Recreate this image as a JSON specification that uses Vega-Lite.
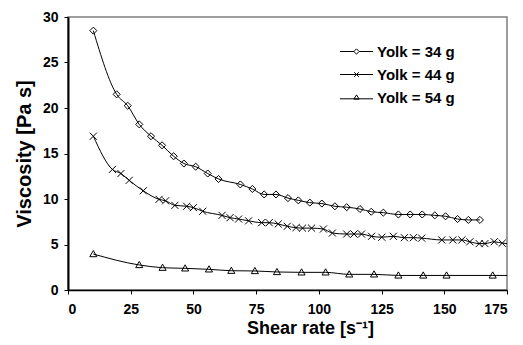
{
  "$schema": "https://vega.github.io/schema/vega-lite/v6.json",
  "autosize": "none",
  "width": 439,
  "height": 273,
  "padding": {"left": 68, "top": 17, "right": 16, "bottom": 55},
  "config": {
    "font": "Liberation Sans",
    "view": {"stroke": "#7f7f7f", "strokeWidth": 1.5},
    "axis": {
      "labelFont": "Liberation Sans", "labelFontWeight": "bold", "labelFontSize": 14, "labelColor": "black",
      "titleFont": "Liberation Sans", "titleFontWeight": "bold", "titleFontSize": 19, "titleColor": "black",
      "domainColor": "black", "domainWidth": 1.5, "tickColor": "black", "tickWidth": 1, "tickSize": 4,
      "grid": false
    }
  },
  "data": {"values": [
    {"series": "Yolk = 34 g", "shear": 10.1, "visc": 28.5},
    {"series": "Yolk = 34 g", "shear": 19.4, "visc": 21.5},
    {"series": "Yolk = 34 g", "shear": 23.8, "visc": 20.25},
    {"series": "Yolk = 34 g", "shear": 28.4, "visc": 18.2},
    {"series": "Yolk = 34 g", "shear": 33.1, "visc": 16.9},
    {"series": "Yolk = 34 g", "shear": 37.5, "visc": 15.9},
    {"series": "Yolk = 34 g", "shear": 42.1, "visc": 14.7},
    {"series": "Yolk = 34 g", "shear": 46.2, "visc": 13.9},
    {"series": "Yolk = 34 g", "shear": 50.9, "visc": 13.55},
    {"series": "Yolk = 34 g", "shear": 55.7, "visc": 12.8},
    {"series": "Yolk = 34 g", "shear": 60.0, "visc": 12.2},
    {"series": "Yolk = 34 g", "shear": 68.7, "visc": 11.6},
    {"series": "Yolk = 34 g", "shear": 73.5, "visc": 11.1},
    {"series": "Yolk = 34 g", "shear": 78.2, "visc": 10.5},
    {"series": "Yolk = 34 g", "shear": 82.9, "visc": 10.5},
    {"series": "Yolk = 34 g", "shear": 87.7, "visc": 10.1},
    {"series": "Yolk = 34 g", "shear": 91.8, "visc": 9.85},
    {"series": "Yolk = 34 g", "shear": 96.4, "visc": 9.6},
    {"series": "Yolk = 34 g", "shear": 101.2, "visc": 9.5},
    {"series": "Yolk = 34 g", "shear": 106.4, "visc": 9.2},
    {"series": "Yolk = 34 g", "shear": 111.1, "visc": 9.1},
    {"series": "Yolk = 34 g", "shear": 116.4, "visc": 8.9},
    {"series": "Yolk = 34 g", "shear": 120.9, "visc": 8.6},
    {"series": "Yolk = 34 g", "shear": 125.7, "visc": 8.5},
    {"series": "Yolk = 34 g", "shear": 131.7, "visc": 8.3},
    {"series": "Yolk = 34 g", "shear": 136.4, "visc": 8.3},
    {"series": "Yolk = 34 g", "shear": 141.2, "visc": 8.3},
    {"series": "Yolk = 34 g", "shear": 146.2, "visc": 8.2},
    {"series": "Yolk = 34 g", "shear": 150.5, "visc": 8.1},
    {"series": "Yolk = 34 g", "shear": 155.3, "visc": 7.8},
    {"series": "Yolk = 34 g", "shear": 159.6, "visc": 7.7},
    {"series": "Yolk = 34 g", "shear": 164.2, "visc": 7.7},
    {"series": "Yolk = 44 g", "shear": 10.1, "visc": 16.9},
    {"series": "Yolk = 44 g", "shear": 17.7, "visc": 13.25},
    {"series": "Yolk = 44 g", "shear": 21.1, "visc": 12.8},
    {"series": "Yolk = 44 g", "shear": 24.4, "visc": 12.05},
    {"series": "Yolk = 44 g", "shear": 30.0, "visc": 10.9},
    {"series": "Yolk = 44 g", "shear": 36.3, "visc": 9.96},
    {"series": "Yolk = 44 g", "shear": 38.9, "visc": 9.8},
    {"series": "Yolk = 44 g", "shear": 42.6, "visc": 9.3},
    {"series": "Yolk = 44 g", "shear": 47.3, "visc": 9.2},
    {"series": "Yolk = 44 g", "shear": 50.0, "visc": 9.05},
    {"series": "Yolk = 44 g", "shear": 53.7, "visc": 8.65},
    {"series": "Yolk = 44 g", "shear": 61.4, "visc": 8.2},
    {"series": "Yolk = 44 g", "shear": 64.6, "visc": 7.95},
    {"series": "Yolk = 44 g", "shear": 68.0, "visc": 7.8},
    {"series": "Yolk = 44 g", "shear": 72.0, "visc": 7.6},
    {"series": "Yolk = 44 g", "shear": 77.2, "visc": 7.4},
    {"series": "Yolk = 44 g", "shear": 80.2, "visc": 7.4},
    {"series": "Yolk = 44 g", "shear": 83.8, "visc": 7.25},
    {"series": "Yolk = 44 g", "shear": 87.4, "visc": 7.0},
    {"series": "Yolk = 44 g", "shear": 90.9, "visc": 6.85},
    {"series": "Yolk = 44 g", "shear": 93.5, "visc": 6.8},
    {"series": "Yolk = 44 g", "shear": 97.1, "visc": 6.8},
    {"series": "Yolk = 44 g", "shear": 101.8, "visc": 6.7},
    {"series": "Yolk = 44 g", "shear": 105.4, "visc": 6.26},
    {"series": "Yolk = 44 g", "shear": 111.1, "visc": 6.15},
    {"series": "Yolk = 44 g", "shear": 114.0, "visc": 6.15},
    {"series": "Yolk = 44 g", "shear": 117.0, "visc": 6.15},
    {"series": "Yolk = 44 g", "shear": 121.0, "visc": 5.9},
    {"series": "Yolk = 44 g", "shear": 125.1, "visc": 5.8},
    {"series": "Yolk = 44 g", "shear": 129.7, "visc": 5.9},
    {"series": "Yolk = 44 g", "shear": 134.1, "visc": 5.75},
    {"series": "Yolk = 44 g", "shear": 137.7, "visc": 5.75},
    {"series": "Yolk = 44 g", "shear": 141.0, "visc": 5.7},
    {"series": "Yolk = 44 g", "shear": 149.0, "visc": 5.5},
    {"series": "Yolk = 44 g", "shear": 153.4, "visc": 5.5},
    {"series": "Yolk = 44 g", "shear": 157.0, "visc": 5.5},
    {"series": "Yolk = 44 g", "shear": 160.2, "visc": 5.3},
    {"series": "Yolk = 44 g", "shear": 163.9, "visc": 5.1},
    {"series": "Yolk = 44 g", "shear": 166.2, "visc": 5.1},
    {"series": "Yolk = 44 g", "shear": 169.9, "visc": 5.3},
    {"series": "Yolk = 44 g", "shear": 173.1, "visc": 5.15},
    {"series": "Yolk = 44 g", "shear": 175.0, "visc": 5.1},
    {"series": "Yolk = 54 g", "shear": 10.1, "visc": 3.95},
    {"series": "Yolk = 54 g", "shear": 28.4, "visc": 2.75},
    {"series": "Yolk = 54 g", "shear": 37.7, "visc": 2.45},
    {"series": "Yolk = 54 g", "shear": 46.7, "visc": 2.38},
    {"series": "Yolk = 54 g", "shear": 56.2, "visc": 2.27},
    {"series": "Yolk = 54 g", "shear": 65.1, "visc": 2.12},
    {"series": "Yolk = 54 g", "shear": 74.5, "visc": 2.09},
    {"series": "Yolk = 54 g", "shear": 83.3, "visc": 1.98},
    {"series": "Yolk = 54 g", "shear": 93.1, "visc": 1.94},
    {"series": "Yolk = 54 g", "shear": 102.7, "visc": 1.94},
    {"series": "Yolk = 54 g", "shear": 112.1, "visc": 1.72},
    {"series": "Yolk = 54 g", "shear": 122.0, "visc": 1.72},
    {"series": "Yolk = 54 g", "shear": 131.7, "visc": 1.6},
    {"series": "Yolk = 54 g", "shear": 141.6, "visc": 1.6},
    {"series": "Yolk = 54 g", "shear": 150.9, "visc": 1.6},
    {"series": "Yolk = 54 g", "shear": 169.3, "visc": 1.6},
    {"series": "Yolk = 54 g", "shear": 175.0, "visc": 1.6}
  ]},
  "encoding": {
    "x": {"field": "shear", "type": "quantitative", "scale": {"domain": [0, 175], "nice": false},
          "axis": {"values": [0, 25, 50, 75, 100, 125, 150, 175], "labelPadding": 8, "title": "Shear rate [s⁻¹]", "titleFontSize": 18, "titlePadding": 3, "titleX": 242, "titleAlign": "center"}},
    "y": {"field": "visc", "type": "quantitative", "scale": {"domain": [0, 30], "nice": false},
          "axis": {"values": [0, 5, 10, 15, 20, 25, 30], "labelPadding": 6, "title": "Viscosity [Pa s]", "titleFontSize": 20, "titlePadding": 8, "domainWidth": 2}}
  },
  "layer": [
    {
      "mark": {"type": "line", "interpolate": "monotone", "color": "black", "strokeWidth": 1},
      "encoding": {"detail": {"field": "series"}}
    },
    {
      "transform": [{"filter": "datum.shear < 174.9"}],
      "mark": {"type": "point", "filled": false, "color": "black", "strokeWidth": 1, "opacity": 1},
      "encoding": {
        "shape": {"field": "series", "type": "nominal", "legend": null,
          "scale": {"domain": ["Yolk = 34 g", "Yolk = 44 g", "Yolk = 54 g"],
                    "range": ["M0,-1L1,0L0,1L-1,0Z", "M-1,-1L1,1M-1,1L1,-1", "M0,-1L1,0.75L-1,0.75Z"]}},
        "size": {"value": 50}
      }
    },
    {
      "transform": [{"filter": "false"}],
      "mark": {"type": "point", "filled": false, "color": "black", "strokeWidth": 1, "opacity": 1},
      "encoding": {
        "shape": {"field": "series", "type": "nominal",
          "scale": {"domain": ["Yolk = 34 g", "Yolk = 44 g", "Yolk = 54 g"],
                    "range": ["M-2.5,0H-0.4M0.4,0H2.5M0,-0.4L0.4,0L0,0.4L-0.4,0Z", "M-2.5,0H2.5M-0.35,-0.35L0.35,0.35M-0.35,0.35L0.35,-0.35", "M-2.5,0.2H2.5M0,-0.4L0.4,0.25L-0.4,0.25Z"]},
          "legend": {"title": null, "orient": "none", "legendX": 281, "legendY": 27,
                     "symbolSize": 174, "symbolStrokeColor": "black", "symbolStrokeWidth": 1, "symbolFillColor": "transparent",
                     "labelFont": "Liberation Sans", "labelFontWeight": "bold", "labelFontSize": 15, "labelColor": "black",
                     "labelOffset": 13, "rowPadding": 7, "padding": 0}},
        "size": {"value": 174}
      }
    }
  ],
  "resolve": {"scale": {"shape": "independent"}}
}
